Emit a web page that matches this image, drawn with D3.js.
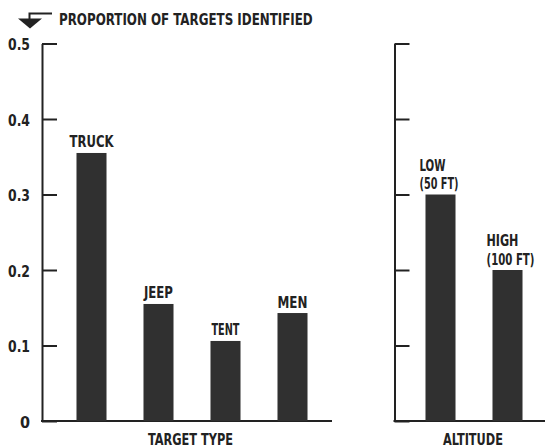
<!DOCTYPE html>
<html>
<head>
<meta charset="utf-8">
<script src="https://cdn.jsdelivr.net/npm/d3@7"></script>
<style>
  html, body { margin: 0; padding: 0; background: #fff; }
  svg { display: block; }
  text { font-family: "Liberation Sans Narrow", "DejaVu Sans Condensed", "Arial Narrow", sans-serif; font-weight: bold; fill: #222; }
</style>
</head>
<body>
<script>
// ---- data ----
const targetTypes = ["TRUCK", "JEEP", "TENT", "MEN"];
const targetValues = [0.355, 0.155, 0.106, 0.143];
const altitudes = ["LOW", "HIGH"];
const altitudeSubLabels = ["(50 FT)", "(100 FT)"];
const altitudeValues = [0.30, 0.20];
const yTickValues = [0, 0.1, 0.2, 0.3, 0.4, 0.5];
const yTickLabels = ["0", "0.1", "0.2", "0.3", "0.4", "0.5"];
const yAxisTitle = "PROPORTION OF TARGETS IDENTIFIED";
const leftAxisTitle = "TARGET TYPE";
const rightAxisTitle = "ALTITUDE";

// ---- layout ----
const W = 545, H = 448;
const ink = "#222", barFill = "#303030";
const svg = d3.select("body").append("svg").attr("width", W).attr("height", H);

const y = d3.scaleLinear().domain([0, 0.5]).range([421, 43.5]);

const xLeft = d3.scaleBand().domain(targetTypes).range([58, 326])
  .paddingInner(0.552).paddingOuter(0.276);
const xRight = d3.scaleBand().domain(altitudes).range([407, 541])
  .paddingInner(0.552).paddingOuter(0.276);

const leftAxisX = 42, rightAxisX = 394.5;

// place a text so that it is squeezed horizontally to a given width
function fitText(x, yPos, str, width, size, anchor) {
  const g = svg.append("g");
  const t = g.append("text").attr("font-size", size).text(str);
  const natural = t.node().getComputedTextLength();
  const sx = width / natural;
  const left = anchor === "middle" ? x - width / 2 : x;
  g.attr("transform", `translate(${left},${yPos}) scale(${sx},1)`);
  return t;
}

// ---- left axis ----
const gL = svg.append("g").attr("transform", `translate(${leftAxisX},0)`);
gL.call(d3.axisLeft(y).tickValues(yTickValues)
  .tickFormat((d, i) => yTickLabels[i])
  .tickSizeInner(-15).tickSizeOuter(0).tickPadding(12));
gL.select(".domain").attr("stroke", ink).attr("stroke-width", 2);
gL.selectAll(".tick line").attr("stroke", ink).attr("stroke-width", 2);
gL.selectAll(".tick text").attr("font-size", 16).attr("dy", "0.4em")
  .attr("font-family", null)
  .each(function(d) { if (d > 0) d3.select(this).attr("textLength", 22).attr("lengthAdjust", "spacingAndGlyphs"); });

// ---- right axis ----
const gR = svg.append("g").attr("transform", `translate(${rightAxisX},0)`);
gR.call(d3.axisLeft(y).tickValues(yTickValues).tickFormat("")
  .tickSizeInner(-15).tickSizeOuter(0));
gR.select(".domain").attr("stroke", ink).attr("stroke-width", 2);
gR.selectAll(".tick line").attr("stroke", ink).attr("stroke-width", 2);

// ---- baselines ----
svg.append("line").attr("x1", leftAxisX - 1).attr("x2", 332)
  .attr("y1", y(0)).attr("y2", y(0)).attr("stroke", ink).attr("stroke-width", 2);
svg.append("line").attr("x1", rightAxisX - 1).attr("x2", W)
  .attr("y1", y(0)).attr("y2", y(0)).attr("stroke", ink).attr("stroke-width", 2);

// ---- left bars ----
svg.selectAll("rect.left").data(targetTypes).join("rect").attr("class", "left")
  .attr("x", d => xLeft(d)).attr("width", xLeft.bandwidth())
  .attr("y", (d, i) => y(targetValues[i]))
  .attr("height", (d, i) => y(0) - y(targetValues[i]))
  .attr("fill", barFill);
const leftLabelW = {TRUCK: 44, JEEP: 29, TENT: 28, MEN: 30};
targetTypes.forEach((d, i) => {
  fitText(xLeft(d) + xLeft.bandwidth() / 2, y(targetValues[i]) - 5.5, d, leftLabelW[d], 16, "middle");
});

// ---- right bars ----
svg.selectAll("rect.right").data(altitudes).join("rect").attr("class", "right")
  .attr("x", d => xRight(d)).attr("width", xRight.bandwidth())
  .attr("y", (d, i) => y(altitudeValues[i]))
  .attr("height", (d, i) => y(0) - y(altitudeValues[i]))
  .attr("fill", barFill);
const rightLabelW = [[26, 39], [32, 48]];
altitudes.forEach((d, i) => {
  const x0 = xRight(d) - 6;
  const top = y(altitudeValues[i]);
  fitText(x0, top - 24, d, rightLabelW[i][0], 16, "start");
  fitText(x0, top - 5.5, altitudeSubLabels[i], rightLabelW[i][1], 16, "start");
});

// ---- axis titles ----
fitText(190.5, 445, leftAxisTitle, 85, 15, "middle");
fitText(473, 445, rightAxisTitle, 60, 15, "middle");

// ---- y title with turn-down arrow ----
const arrow = svg.append("g");
arrow.append("path").attr("d", "M52,13.5 H29.5 V19")
  .attr("fill", "none").attr("stroke", ink).attr("stroke-width", 2);
arrow.append("path").attr("d", "M18,18.5 L42,18.5 L30,28.5 Z").attr("fill", ink);
fitText(59, 25, yAxisTitle, 254, 16, "start");
</script>
</body>
</html>
